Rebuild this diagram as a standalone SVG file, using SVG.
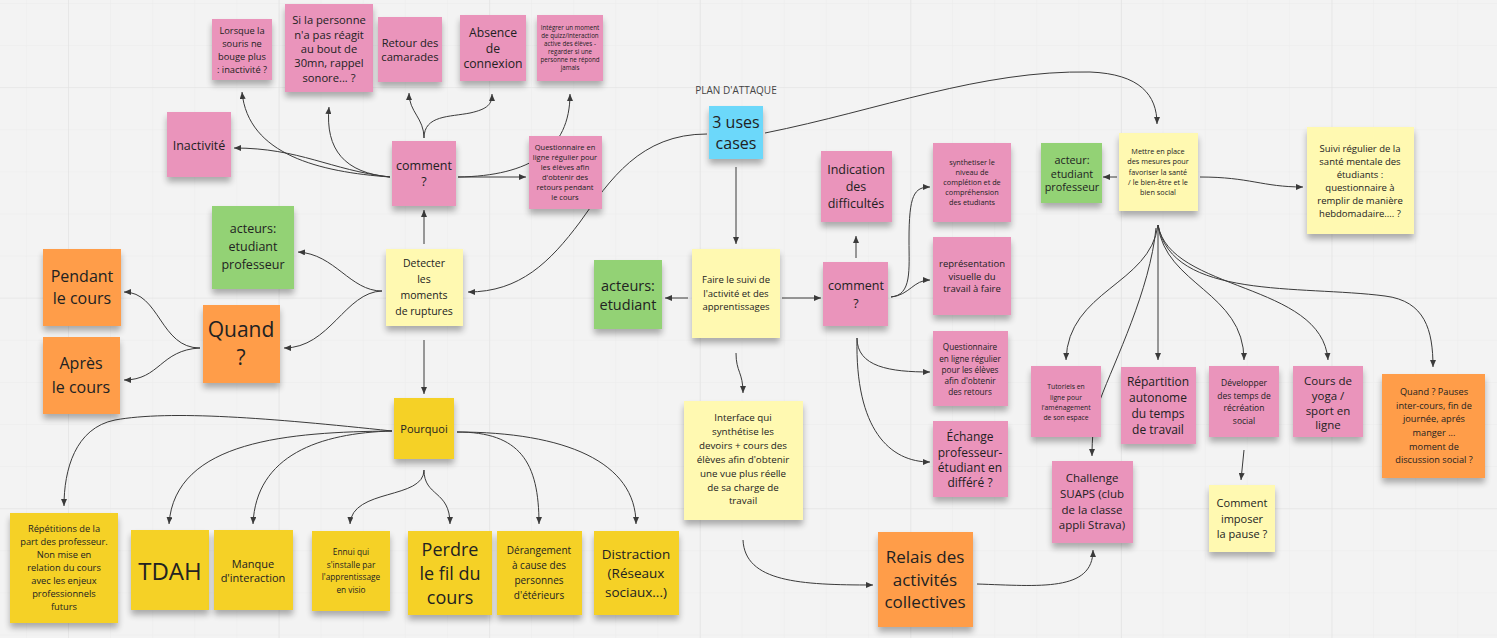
<svg xmlns="http://www.w3.org/2000/svg" width="1497" height="638" viewBox="0 0 1497 638">
<defs>
<style>
.pink{fill:#ea94bb}.ly{fill:#fff9b1}.yel{fill:#f5d128}.or{fill:#ff9d48}.gr{fill:#93d275}.bl{fill:#6cd8fa}
.n rect{filter:url(#sh)}
.n text{font-family:"Open Sans","Liberation Sans",sans-serif;fill:#222;text-anchor:middle;dominant-baseline:central}
.c path{fill:none;stroke:#3a3a3a;stroke-width:1;marker-end:url(#ah)}
</style>
<filter id="sh" x="-10%" y="-10%" width="120%" height="130%">
<feGaussianBlur in="SourceAlpha" stdDeviation="3"/>
<feOffset dy="5" result="b"/>
<feComponentTransfer><feFuncA type="linear" slope="0.3"/></feComponentTransfer>
<feMerge><feMergeNode/><feMergeNode in="SourceGraphic"/></feMerge>
</filter>
<marker id="ah" markerUnits="userSpaceOnUse" markerWidth="7" markerHeight="6" refX="7" refY="3" orient="auto">
<path d="M0,0 L7,3 L0,6 z" fill="#3a3a3a"/>
</marker>
<pattern id="minor" width="42.1" height="42.1" patternUnits="userSpaceOnUse" x="68" y="3">
<path d="M0,0 H42.1 M0,0 V42.1" fill="none" stroke="#ececec" stroke-width="1"/>
</pattern>
<pattern id="major" width="210.6" height="210.6" patternUnits="userSpaceOnUse" x="68" y="87">
<path d="M0,0 H210.6 M0,0 V210.6" fill="none" stroke="#e1e1e1" stroke-width="1.2"/>
</pattern>
</defs>
<rect width="1497" height="638" fill="#f3f3f3"/>
<rect width="1497" height="638" fill="url(#minor)"/>
<rect width="1497" height="638" fill="url(#major)"/>

<g id="connectors" class="c">
<path d="M390,177 C320,172 248,155 242,92"/>
<path d="M390,177 C330,170 300,148 234,148"/>
<path d="M390,177 C345,173 325,150 329,107"/>
<path d="M424,138 C424,118 409,112 409,93"/>
<path d="M424,138 C424,115 450,117 470,113 C488,109 492,104 492,94"/>
<path d="M458,177 L526,177"/>
<path d="M458,177 C530,176 570,150 570,94"/>
<path d="M424,244 L424,210"/>
<path d="M424,340 L424,394"/>
<path d="M382,291 C350,291 335,254 298,252"/>
<path d="M382,291 C345,292 330,348 284,348"/>
<path d="M707,134 C640,134 610,180 580,222 C550,262 520,292 468,292"/>
<path d="M200,348 C160,348 160,292 124,292"/>
<path d="M200,348 C160,350 160,380 124,380"/>
<path d="M392,431 C270,418 170,410 115,420 C75,428 64,470 64,506"/>
<path d="M392,431 C290,432 175,440 169,524"/>
<path d="M392,431 C320,433 256,455 253,524"/>
<path d="M424,470 C424,500 352,488 350,524"/>
<path d="M424,470 C424,497 450,490 450,524"/>
<path d="M457,432 C520,432 539,462 539,524"/>
<path d="M457,432 C565,432 636,462 636,524"/>
<path d="M736,167 L736,244"/>
<path d="M765,133 C880,110 980,70 1090,72 C1140,74 1157,95 1157,124"/>
<path d="M688,298 L665,298"/>
<path d="M782,298 L821,298"/>
<path d="M736,353 C736,372 743,372 743,393"/>
<path d="M743,540 C745,582 800,585 873,585"/>
<path d="M977,584 C1040,586 1093,592 1093,550"/>
<path d="M856,258 L856,236"/>
<path d="M891,297 C912,295 909,270 909,240 C909,195 914,187 930,187"/>
<path d="M891,297 C910,295 913,280 930,280"/>
<path d="M857,338 C857,367 890,372 930,372"/>
<path d="M857,338 C855,430 890,462 930,462"/>
<path d="M1117,177 L1103,177"/>
<path d="M1200,177 C1250,177 1262,187 1303,187"/>
<path d="M1158,225 C1150,285 1068,290 1066,360"/>
<path d="M1158,225 L1158,360"/>
<path d="M1158,225 C1165,285 1244,292 1244,360"/>
<path d="M1158,225 C1170,292 1322,282 1328,360"/>
<path d="M1158,225 C1172,300 1300,285 1385,296 C1425,301 1433,330 1433,367"/>
<path d="M1156,228 C1150,290 1115,360 1100,400 C1093,420 1092,440 1092,456"/>
<path d="M1244,450 L1241,480"/>
</g>

<text x="736" y="94" font-family="Open Sans, Liberation Sans, sans-serif" font-size="10" fill="#444" text-anchor="middle">PLAN D'ATTAQUE</text>

<g id="n-souris" class="n"><rect class="pink" x="212" y="19" width="60" height="61"/>
<text font-size="9.3"><tspan x="242" y="30">Lorsque la</tspan><tspan x="242" y="43">souris ne</tspan><tspan x="242" y="56">bouge plus</tspan><tspan x="242" y="69">: inactivité ?</tspan></text></g>

<g id="n-personne" class="n"><rect class="pink" x="285" y="4" width="88" height="88"/>
<text font-size="11.2"><tspan x="329" y="19">Si la personne</tspan><tspan x="329" y="33.5">n'a pas réagit</tspan><tspan x="329" y="48">au bout de</tspan><tspan x="329" y="62">30mn, rappel</tspan><tspan x="329" y="76.5">sonore... ?</tspan></text></g>

<g id="n-retour" class="n"><rect class="pink" x="378" y="17" width="64" height="65"/>
<text font-size="11.2"><tspan x="410" y="42">Retour des</tspan><tspan x="410" y="56">camarades</tspan></text></g>

<g id="n-absence" class="n"><rect class="pink" x="460" y="15" width="66" height="66"/>
<text font-size="12.2"><tspan x="493" y="32">Absence</tspan><tspan x="493" y="47.5">de</tspan><tspan x="493" y="63">connexion</tspan></text></g>

<g id="n-integrer" class="n"><rect class="pink" x="537" y="15" width="66" height="66"/>
<text font-size="6.2"><tspan x="570" y="27">Intégrer un moment</tspan><tspan x="570" y="35">de quizz/interaction</tspan><tspan x="570" y="43">active des élèves -</tspan><tspan x="570" y="51">regarder si une</tspan><tspan x="570" y="59">personne ne répond</tspan><tspan x="570" y="67">jamais</tspan></text></g>

<g id="n-inactivite" class="n"><rect class="pink" x="167" y="112" width="64" height="65"/>
<text font-size="12.5"><tspan x="199" y="145">Inactivité</tspan></text></g>

<g id="n-comment1" class="n"><rect class="pink" x="392" y="141" width="64" height="65"/>
<text font-size="12.5"><tspan x="424" y="165">comment</tspan><tspan x="424" y="181">?</tspan></text></g>

<g id="n-questionnaire1" class="n"><rect class="pink" x="529" y="136" width="73" height="73"/>
<text font-size="7.5"><tspan x="565" y="147">Questionnaire en</tspan><tspan x="565" y="157">ligne régulier pour</tspan><tspan x="565" y="167">les élèves afin</tspan><tspan x="565" y="177">d'obtenir des</tspan><tspan x="565" y="187">retours pendant</tspan><tspan x="565" y="197">le cours</tspan></text></g>

<g id="n-usecases" class="n"><rect class="bl" x="709" y="106" width="54" height="53"/>
<text font-size="16"><tspan x="736" y="122">3 uses</tspan><tspan x="736" y="143">cases</tspan></text></g>

<g id="n-acteurs1" class="n"><rect class="gr" x="212" y="206" width="82" height="83"/>
<text font-size="12.5"><tspan x="253" y="228">acteurs:</tspan><tspan x="253" y="246">etudiant</tspan><tspan x="253" y="264">professeur</tspan></text></g>

<g id="n-detecter" class="n"><rect class="ly" x="386" y="249" width="77" height="77"/>
<text font-size="10.5"><tspan x="424" y="263">Detecter</tspan><tspan x="424" y="279">les</tspan><tspan x="424" y="295">moments</tspan><tspan x="424" y="311">de ruptures</tspan></text></g>

<g id="n-pendant" class="n"><rect class="or" x="43" y="249" width="78" height="77"/>
<text font-size="16"><tspan x="82" y="276">Pendant</tspan><tspan x="82" y="298">le cours</tspan></text></g>

<g id="n-apres" class="n"><rect class="or" x="43" y="337" width="77" height="77"/>
<text font-size="16"><tspan x="81" y="363">Après</tspan><tspan x="81" y="387">le cours</tspan></text></g>

<g id="n-quand1" class="n"><rect class="or" x="203" y="305" width="77" height="78"/>
<text font-size="21"><tspan x="241" y="329">Quand</tspan><tspan x="241" y="357">?</tspan></text></g>

<g id="n-pourquoi" class="n"><rect class="yel" x="394" y="398" width="60" height="61"/>
<text font-size="11"><tspan x="424" y="428">Pourquoi</tspan></text></g>

<g id="n-repetitions" class="n"><rect class="yel" x="10" y="513" width="108" height="110"/>
<text font-size="9.3"><tspan x="64" y="528">Répétitions de la</tspan><tspan x="64" y="541">part des professeur.</tspan><tspan x="64" y="554">Non mise en</tspan><tspan x="64" y="567">relation du cours</tspan><tspan x="64" y="580">avec les enjeux</tspan><tspan x="64" y="593">professionnels</tspan><tspan x="64" y="606">futurs</tspan></text></g>

<g id="n-tdah" class="n"><rect class="yel" x="131" y="530" width="78" height="80"/>
<text font-size="24"><tspan x="170" y="570">TDAH</tspan></text></g>

<g id="n-manque" class="n"><rect class="yel" x="214" y="530" width="79" height="80"/>
<text font-size="11"><tspan x="253" y="563">Manque</tspan><tspan x="253" y="577">d'interaction</tspan></text></g>

<g id="n-ennui" class="n"><rect class="yel" x="312" y="531" width="78" height="80"/>
<text font-size="8.3"><tspan x="351" y="551">Ennui  qui</tspan><tspan x="351" y="564">s'installe par</tspan><tspan x="351" y="576">l'apprentissage</tspan><tspan x="351" y="589">en visio</tspan></text></g>

<g id="n-perdre" class="n"><rect class="yel" x="408" y="531" width="84" height="84"/>
<text font-size="18"><tspan x="450" y="549">Perdre</tspan><tspan x="450" y="573">le fil du</tspan><tspan x="450" y="597">cours</tspan></text></g>

<g id="n-derangement" class="n"><rect class="yel" x="497" y="531" width="85" height="84"/>
<text font-size="10"><tspan x="539" y="550">Dérangement</tspan><tspan x="539" y="565">à cause des</tspan><tspan x="539" y="580">personnes</tspan><tspan x="539" y="595">d'étérieurs</tspan></text></g>

<g id="n-distraction" class="n"><rect class="yel" x="594" y="531" width="85" height="84"/>
<text font-size="13.5"><tspan x="636" y="554">Distraction</tspan><tspan x="636" y="573">(Réseaux</tspan><tspan x="636" y="592">sociaux...)</tspan></text></g>

<g id="n-acteurs2" class="n"><rect class="gr" x="594" y="260" width="68" height="69"/>
<text font-size="14.5"><tspan x="628" y="285">acteurs:</tspan><tspan x="628" y="304">etudiant</tspan></text></g>

<g id="n-faire" class="n"><rect class="ly" x="692" y="249" width="88" height="89"/>
<text font-size="9.5"><tspan x="736" y="279">Faire le suivi de</tspan><tspan x="736" y="293">l'activité et des</tspan><tspan x="736" y="306">apprentissages</tspan></text></g>

<g id="n-interface" class="n"><rect class="ly" x="684" y="401" width="119" height="119"/>
<text font-size="9.8"><tspan x="743" y="417">Interface qui</tspan><tspan x="743" y="431">synthétise  les</tspan><tspan x="743" y="445">devoirs + cours des</tspan><tspan x="743" y="459">élèves afin d'obtenir</tspan><tspan x="743" y="473">une vue plus réelle</tspan><tspan x="743" y="487">de sa charge de</tspan><tspan x="743" y="500">travail</tspan></text></g>

<g id="n-indication" class="n"><rect class="pink" x="821" y="151" width="71" height="71"/>
<text font-size="12.5"><tspan x="856" y="169">Indication</tspan><tspan x="856" y="186">des</tspan><tspan x="856" y="203">difficultés</tspan></text></g>

<g id="n-comment2" class="n"><rect class="pink" x="823" y="262" width="65" height="64"/>
<text font-size="12.5"><tspan x="856" y="285">comment</tspan><tspan x="856" y="303">?</tspan></text></g>

<g id="n-synthetiser" class="n"><rect class="pink" x="933" y="143" width="78" height="79"/>
<text font-size="7.3"><tspan x="972" y="162">synthetiser le</tspan><tspan x="972" y="172">niveau de</tspan><tspan x="972" y="182">complétion et de</tspan><tspan x="972" y="192">compréhension</tspan><tspan x="972" y="202">des etudiants</tspan></text></g>

<g id="n-representation" class="n"><rect class="pink" x="933" y="237" width="78" height="78"/>
<text font-size="9.5"><tspan x="972" y="263">représentation</tspan><tspan x="972" y="276">visuelle du</tspan><tspan x="972" y="288">travail à faire</tspan></text></g>

<g id="n-questionnaire2" class="n"><rect class="pink" x="933" y="331" width="75" height="75"/>
<text font-size="8.2"><tspan x="970" y="346">Questionnaire</tspan><tspan x="970" y="357.5">en ligne régulier</tspan><tspan x="970" y="369">pour les élèves</tspan><tspan x="970" y="380">afin d'obtenir</tspan><tspan x="970" y="391">des retours</tspan></text></g>

<g id="n-echange" class="n"><rect class="pink" x="933" y="421" width="75" height="76"/>
<text font-size="12"><tspan x="970" y="436">Échange</tspan><tspan x="970" y="452">professeur-</tspan><tspan x="970" y="467">étudiant en</tspan><tspan x="970" y="482">différé ?</tspan></text></g>

<g id="n-relais" class="n"><rect class="or" x="878" y="532" width="95" height="95"/>
<text font-size="17"><tspan x="925" y="556">Relais des</tspan><tspan x="925" y="579">activités</tspan><tspan x="925" y="601">collectives</tspan></text></g>

<g id="n-acteur3" class="n"><rect class="gr" x="1041" y="143" width="61" height="60"/>
<text font-size="10.8"><tspan x="1072" y="159">acteur:</tspan><tspan x="1072" y="173">etudiant</tspan><tspan x="1072" y="186">professeur</tspan></text></g>

<g id="n-mettre" class="n"><rect class="ly" x="1119" y="133" width="79" height="78"/>
<text font-size="7.3"><tspan x="1158" y="151">Mettre en place</tspan><tspan x="1158" y="161">des mesures pour</tspan><tspan x="1158" y="172">favoriser la santé</tspan><tspan x="1158" y="182">/ le bien-être et le</tspan><tspan x="1158" y="192">bien social</tspan></text></g>

<g id="n-suivi" class="n"><rect class="ly" x="1307" y="127" width="107" height="107"/>
<text font-size="9.5"><tspan x="1360" y="148">Suivi régulier de la</tspan><tspan x="1360" y="161">santé mentale des</tspan><tspan x="1360" y="174">étudiants :</tspan><tspan x="1360" y="187">questionnaire à</tspan><tspan x="1360" y="200">remplir de manière</tspan><tspan x="1360" y="213">hebdomadaire.... ?</tspan></text></g>

<g id="n-tutoriels" class="n"><rect class="pink" x="1031" y="366" width="70" height="71"/>
<text font-size="6.8"><tspan x="1066" y="386">Tutoriels en</tspan><tspan x="1066" y="397">ligne pour</tspan><tspan x="1066" y="407">l'aménagement</tspan><tspan x="1066" y="417">de son espace</tspan></text></g>

<g id="n-repartition" class="n"><rect class="pink" x="1121" y="367" width="75" height="77"/>
<text font-size="12"><tspan x="1158" y="381">Répartition</tspan><tspan x="1158" y="397">autonome</tspan><tspan x="1158" y="413">du temps</tspan><tspan x="1158" y="429">de travail</tspan></text></g>

<g id="n-developper" class="n"><rect class="pink" x="1209" y="366" width="70" height="71"/>
<text font-size="8.5"><tspan x="1244" y="382">Développer</tspan><tspan x="1244" y="395">des temps de</tspan><tspan x="1244" y="407">récréation</tspan><tspan x="1244" y="420">social</tspan></text></g>

<g id="n-yoga" class="n"><rect class="pink" x="1293" y="366" width="70" height="71"/>
<text font-size="11.5"><tspan x="1328" y="380">Cours de</tspan><tspan x="1328" y="395">yoga /</tspan><tspan x="1328" y="410">sport en</tspan><tspan x="1328" y="424">ligne</tspan></text></g>

<g id="n-quand2" class="n"><rect class="or" x="1382" y="374" width="103" height="104"/>
<text font-size="9.2"><tspan x="1434" y="391">Quand ? Pauses</tspan><tspan x="1434" y="404.5">inter-cours, fin de</tspan><tspan x="1434" y="418">journée, aprés</tspan><tspan x="1434" y="432">manger ...</tspan><tspan x="1434" y="446">moment de</tspan><tspan x="1434" y="459">discussion social ?</tspan></text></g>

<g id="n-challenge" class="n"><rect class="pink" x="1052" y="461" width="81" height="82"/>
<text font-size="11.5"><tspan x="1092" y="477">Challenge</tspan><tspan x="1092" y="493">SUAPS (club</tspan><tspan x="1092" y="509">de la classe</tspan><tspan x="1092" y="524">appli Strava)</tspan></text></g>

<g id="n-imposer" class="n"><rect class="ly" x="1209" y="485" width="66" height="67"/>
<text font-size="11"><tspan x="1242" y="502">Comment</tspan><tspan x="1242" y="518">imposer</tspan><tspan x="1242" y="533">la pause ?</tspan></text></g>
</svg>
